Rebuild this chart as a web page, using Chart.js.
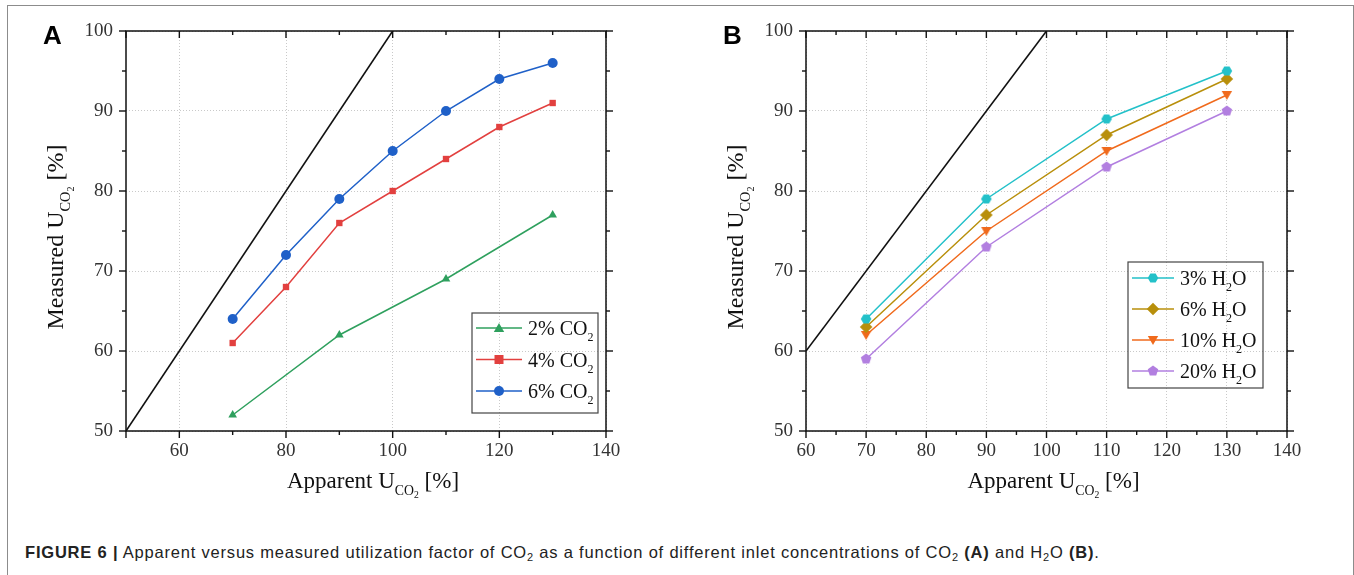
<!DOCTYPE html>
<html>
<head>
<meta charset="utf-8">
<script src="https://cdn.jsdelivr.net/npm/chart.js@4/dist/chart.umd.min.js"></script>
<style>
  body { margin: 0; background: #fff; width: 1354px; height: 575px; overflow: hidden; position: relative; }
  #frame { position: absolute; left: 7px; top: 5px; width: 1345px; height: 620px; border: 1px solid #8c8c8c; }
  .pane { position: absolute; top: 0; }
  #caption { position: absolute; left: 25px; top: 543px; font: 16.5px "Liberation Sans", Arial, sans-serif; letter-spacing: 0.8px; color: #222; white-space: nowrap; }
  #caption sub { font-size: 11px; vertical-align: -3px; }
</style>
</head>
<body>
<div id="frame"></div>
<canvas id="chartA" class="pane" width="677" height="530" style="left:0"></canvas>
<canvas id="chartB" class="pane" width="677" height="530" style="left:677px"></canvas>
<div id="caption"><b>FIGURE 6 |</b> Apparent versus measured utilization factor of CO<sub>2</sub> as a function of different inlet concentrations of CO<sub>2</sub> <b>(A)</b> and H<sub>2</sub>O <b>(B)</b>.</div>

<script>
// ---------- data ----------
const xTicksA = [60, 80, 100, 120, 140];
const xTicksB = [60, 70, 80, 90, 100, 110, 120, 130, 140];
const yTicks = [50, 60, 70, 80, 90, 100];

// panel A: CO2 inlet concentration
const xCO2short = [70, 90, 110, 130];
const xCO2 = [70, 80, 90, 100, 110, 120, 130];
const co2_2 = [52, 62, 69, 77];
const co2_4 = [61, 68, 76, 80, 84, 88, 91];
const co2_6 = [64, 72, 79, 85, 90, 94, 96];
const parityA = [50, 100];

// panel B: H2O inlet concentration
const xH2O = [70, 90, 110, 130];
const h2o_3 = [64, 79, 89, 95];
const h2o_6 = [63, 77, 87, 94];
const h2o_10 = [62, 75, 85, 92];
const h2o_20 = [59, 73, 83, 90];
const parityB = [60, 100];

const SERIF = '"Liberation Serif", "Times New Roman", serif';
Chart.defaults.font.family = SERIF;

// ---------- marker helpers ----------
function polyPath(ctx, x, y, r, n, rot) {
  ctx.beginPath();
  for (let i = 0; i < n; i++) {
    const a = rot + i * 2 * Math.PI / n;
    const px = x + r * Math.cos(a), py = y + r * Math.sin(a);
    i ? ctx.lineTo(px, py) : ctx.moveTo(px, py);
  }
  ctx.closePath();
}

function drawMarker(ctx, style, x, y, r, color) {
  ctx.save();
  ctx.fillStyle = color;
  if (style === 'circle') { ctx.beginPath(); ctx.arc(x, y, r, 0, 2 * Math.PI); }
  else if (style === 'rect') { ctx.beginPath(); ctx.rect(x - r * 0.9, y - r * 0.9, r * 1.8, r * 1.8); }
  else if (style === 'triangle') polyPath(ctx, x, y + r * 0.2, r * 1.2, 3, -Math.PI / 2);
  else if (style === 'triangleDown') polyPath(ctx, x, y - r * 0.2, r * 1.2, 3, Math.PI / 2);
  else if (style === 'diamond') polyPath(ctx, x, y, r * 1.25, 4, 0);
  else if (style === 'hexagon') polyPath(ctx, x, y, r * 1.05, 6, 0);
  else if (style === 'pentagon') polyPath(ctx, x, y, r * 1.1, 5, -Math.PI / 2);
  ctx.fill();
  ctx.restore();
}

function markerImage(style, color) {
  const c = document.createElement('canvas');
  c.width = 14; c.height = 14;
  drawMarker(c.getContext('2d'), style, 7, 7, 5, color);
  return c;
}

// ---------- text with subscripts ----------
// parts: [text, level]; level 0 normal, 1 subscript, 2 sub-subscript
function subText(ctx, x, y, parts, size, align) {
  const scale = [1, 0.6, 0.42], drop = [0, 0.3, 0.45];
  let total = 0;
  parts.forEach(([t, l]) => { ctx.font = (size * scale[l]) + 'px ' + SERIF; total += ctx.measureText(t).width; });
  let cx = align === 'center' ? x - total / 2 : x;
  ctx.textAlign = 'left';
  ctx.textBaseline = 'alphabetic';
  parts.forEach(([t, l]) => {
    ctx.font = (size * scale[l]) + 'px ' + SERIF;
    ctx.fillText(t, cx, y + size * drop[l]);
    cx += ctx.measureText(t).width;
  });
}

// ---------- decoration plugin: frame, ticks, titles, legend ----------
const decorPlugin = {
  id: 'decor',
  afterDraw(chart, args, o) {
    const { ctx, chartArea: a, scales: { x, y } } = chart;
    ctx.save();
    ctx.strokeStyle = '#111';
    ctx.lineWidth = 1.5;
    ctx.strokeRect(a.left, a.top, a.right - a.left, a.bottom - a.top);

    ctx.lineWidth = 1.4;
    const seg = (x1, y1, x2, y2) => { ctx.beginPath(); ctx.moveTo(x1, y1); ctx.lineTo(x2, y2); ctx.stroke(); };
    for (let v = x.min; v <= x.max + 1e-6; v += o.xMinor) {
      const px = x.getPixelForValue(v);
      const len = o.xTicks.includes(v) || v === x.min ? 7 : 4;
      seg(px, a.bottom, px, a.bottom + len);
      seg(px, a.top, px, a.top + len);
    }
    for (let v = y.min; v <= y.max + 1e-6; v += 5) {
      const py = y.getPixelForValue(v);
      const len = yTicks.includes(v) ? 7 : 4;
      seg(a.left, py, a.left - len, py);
      seg(a.right, py, a.right + len, py);
    }

    // panel letter
    ctx.fillStyle = '#000';
    ctx.font = 'bold 26px "Liberation Sans", Arial, sans-serif';
    ctx.textAlign = 'left';
    ctx.textBaseline = 'alphabetic';
    ctx.fillText(o.letter, o.letterX, 44);

    // axis titles
    ctx.fillStyle = '#111';
    subText(ctx, (a.left + a.right) / 2 + 7, 488, [['Apparent U', 0], ['CO', 1], ['2', 2], [' [%]', 0]], 23, 'center');
    ctx.save();
    ctx.translate(a.left - 63, (a.top + a.bottom) / 2 + 6);
    ctx.rotate(-Math.PI / 2);
    subText(ctx, 0, 0, [['Measured U', 0], ['CO', 1], ['2', 2], [' [%]', 0]], 24, 'center');
    ctx.restore();

    // legend
    const L = o.legend;
    ctx.strokeStyle = '#444';
    ctx.lineWidth = 1.2;
    ctx.strokeRect(L.x, L.y, L.w, L.h);
    L.items.forEach((it, i) => {
      const ry = L.y + L.first + i * L.gap;
      ctx.strokeStyle = it.color;
      ctx.lineWidth = 1.5;
      seg(L.x + 4, ry, L.x + 4 + L.line, ry);
      drawMarker(ctx, it.marker, L.x + 4 + L.line / 2, ry, 5, it.color);
      ctx.fillStyle = '#111';
      subText(ctx, L.x + L.line + 10, ry + 7, it.text, 20, 'left');
    });
    ctx.restore();
  }
};

// ---------- chart builders ----------
function series(xs, ys, color, style, extra) {
  return Object.assign({
    data: xs.map((v, i) => ({ x: v, y: ys[i] })),
    borderColor: color,
    backgroundColor: color,
    borderWidth: 1.5,
    pointStyle: style,
    pointRadius: 5,
    pointBorderWidth: 0,
    tension: 0
  }, extra || {});
}

function parity(ends) {
  return {
    data: ends.map(v => ({ x: v, y: v })),
    borderColor: '#111',
    borderWidth: 1.6,
    pointRadius: 0
  };
}

function buildOptions(xMin, xTicks, leftW, rightPad) {
  const tickFont = { family: SERIF, size: 19 };
  return {
    responsive: false,
    animation: false,
    layout: { padding: { left: 0, right: rightPad, top: 31, bottom: 0 } },
    plugins: { legend: { display: false }, tooltip: { enabled: false } },
    scales: {
      x: {
        type: 'linear', min: xMin, max: 140,
        afterBuildTicks: s => { s.ticks = xTicks.map(v => ({ value: v })); },
        afterFit: s => { s.height = 99; },
        grid: { color: '#c9c9c9', lineWidth: 1, drawTicks: false },
        border: { display: false, dash: [1, 2] },
        ticks: { font: tickFont, color: '#333', padding: 9, maxRotation: 0, autoSkip: false }
      },
      y: {
        type: 'linear', min: 50, max: 100,
        afterBuildTicks: s => { s.ticks = yTicks.map(v => ({ value: v })); },
        afterFit: s => { s.width = leftW; },
        grid: { color: '#c9c9c9', lineWidth: 1, drawTicks: false },
        border: { display: false, dash: [1, 2] },
        ticks: { font: tickFont, color: '#333', padding: 13 }
      }
    }
  };
}

const cGreen = '#2fa05e', cRed = '#e2403f', cBlue = '#1f60c8';
const cCyan = '#23c1c9', cGold = '#b88f0b', cOrange = '#f06a1c', cPurple = '#b27fe0';

const optsA = buildOptions(50, xTicksA, 126, 71);
optsA.plugins.decor = {
  letter: 'A', letterX: 43, xTicks: xTicksA, xMinor: 10,
  legend: {
    x: 472, y: 313, w: 126, h: 100, first: 15, gap: 31.5, line: 46,
    items: [
      { color: cGreen, marker: 'triangle', text: [['2% CO', 0], ['2', 1]] },
      { color: cRed, marker: 'rect', text: [['4% CO', 0], ['2', 1]] },
      { color: cBlue, marker: 'circle', text: [['6% CO', 0], ['2', 1]] }
    ]
  }
};

new Chart(document.getElementById('chartA'), {
  type: 'line',
  data: {
    datasets: [
      parity(parityA),
      series(xCO2short, co2_2, cGreen, 'triangle'),
      series(xCO2, co2_4, cRed, 'rect', { pointRadius: 4.5 }),
      series(xCO2, co2_6, cBlue, 'circle')
    ]
  },
  options: optsA,
  plugins: [decorPlugin]
});

const optsB = buildOptions(60, xTicksB, 129, 67);
optsB.plugins.decor = {
  letter: 'B', letterX: 46, xTicks: xTicksB, xMinor: 5,
  legend: {
    x: 451, y: 262, w: 135, h: 126, first: 16, gap: 31, line: 42,
    items: [
      { color: cCyan, marker: 'hexagon', text: [['3% H', 0], ['2', 1], ['O', 0]] },
      { color: cGold, marker: 'diamond', text: [['6% H', 0], ['2', 1], ['O', 0]] },
      { color: cOrange, marker: 'triangleDown', text: [['10% H', 0], ['2', 1], ['O', 0]] },
      { color: cPurple, marker: 'pentagon', text: [['20% H', 0], ['2', 1], ['O', 0]] }
    ]
  }
};

new Chart(document.getElementById('chartB'), {
  type: 'line',
  data: {
    datasets: [
      parity(parityB),
      series(xH2O, h2o_3, cCyan, markerImage('hexagon', cCyan)),
      series(xH2O, h2o_6, cGold, markerImage('diamond', cGold)),
      series(xH2O, h2o_10, cOrange, markerImage('triangleDown', cOrange)),
      series(xH2O, h2o_20, cPurple, markerImage('pentagon', cPurple))
    ]
  },
  options: optsB,
  plugins: [decorPlugin]
});
</script>
</body>
</html>
